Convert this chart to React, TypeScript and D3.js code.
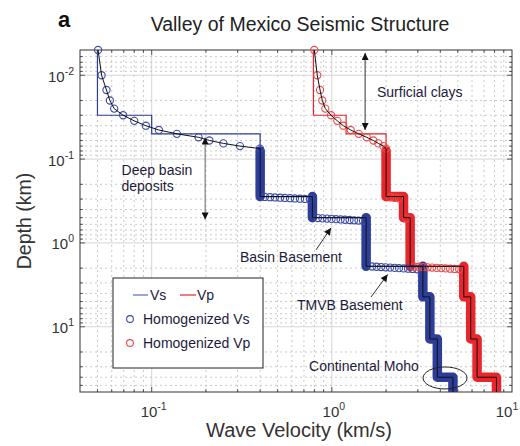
import React from "react";
import * as d3 from "d3";

// ---- Data -------------------------------------------------------------

// Finely sampled upper clay layers (depth in km, velocities in km/s)
const shallowDepth = [0.005, 0.01, 0.015, 0.02, 0.025, 0.03, 0.035, 0.04, 0.045, 0.05, 0.055, 0.06, 0.065, 0.07, 0.075];
const shallowVs = [0.0504, 0.0527, 0.0561, 0.0586, 0.0619, 0.0694, 0.08, 0.0928, 0.1096, 0.138, 0.182, 0.209, 0.25, 0.309, 0.399];
const shallowVp = [0.799, 0.83, 0.86, 0.885, 0.92, 0.99, 1.073, 1.158, 1.273, 1.41, 1.561, 1.7, 1.812, 1.932, 2.0];

// Layered model: top of each layer (km) and its velocities (km/s)
const layerTop = [0.005, 0.03, 0.05, 0.28, 0.5, 1.9, 4.4, 14, 40];
const layerVs = [0.05, 0.1, 0.4, 0.78, 1.55, 3.2, 3.5, 3.85, 4.7];
const layerVp = [0.79, 1.2, 2.0, 2.5, 2.72, 5.4, 5.9, 6.4, 8.2];
const modelBase = 60;

// Gradient profile ends here; the dense homogenized samples start just below
const gradientBase = 0.075;
const denseTop = 0.08;

// Interfaces where the homogenized samples spread out into separate markers
const vsBandBreaks = [0.28, 0.5, 1.9];
const vpBandBreaks = [1.9];

// Homogenized samples across the main interfaces
const vsStepDepth = [
  0.283, 0.285, 0.287, 0.289, 0.291, 0.293, 0.295, 0.297, 0.299, 0.301,
  0.505, 0.509, 0.513, 0.517, 0.521, 0.525, 0.529, 0.533, 0.537, 0.541, 0.545,
  1.91, 1.925, 1.94, 1.955, 1.97, 1.985, 2.0, 2.015, 2.03, 2.045, 2.06,
];
const vsStepVel = [
  0.425, 0.454, 0.483, 0.516, 0.549, 0.586, 0.624, 0.666, 0.709, 0.756,
  0.837, 0.887, 0.94, 0.996, 1.055, 1.118, 1.183, 1.254, 1.328, 1.407, 1.49,
  1.672, 1.771, 1.876, 1.986, 2.105, 2.23, 2.361, 2.502, 2.649, 2.806, 2.973,
];
const vpStepDepth = [
  0.285, 0.29, 0.295,
  0.51,
  1.91, 1.925, 1.94, 1.955, 1.97, 1.985, 2.0, 2.015, 2.03, 2.045, 2.06,
];
const vpStepVel = [
  2.105, 2.23, 2.361,
  2.6,
  2.86, 3.03, 3.209, 3.4, 3.601, 3.814, 4.041, 4.28, 4.534, 4.803, 5.087,
];

// Axis tick labels (exponents of ten)
const xTickExp = ["-1", "0", "1"];
const yTickExp = ["-2", "-1", "0", "1"];

// Annotations, placed in data coordinates [velocity, depth]
const noteText = [
  { lines: ["Surficial clays"], at: [1.78, 0.0182] },
  { lines: ["Deep basin", "deposits"], at: [0.068, 0.155] },
  { lines: ["Basin Basement"], at: [0.309, 1.69] },
  { lines: ["TMVB Basement"], at: [0.64, 6.31] },
  { lines: ["Continental Moho"], at: [0.747, 33.7] },
];
const noteArrows = [
  { from: [1.53, 0.00543], to: [1.53, 0.045], both: true, color: "#333" },
  { from: [0.198, 0.0553], to: [0.198, 0.5255], both: true, color: "#666" },
  { from: [0.817, 1.21], to: [0.989, 0.664], both: false, color: "#333" },
  { from: [1.65, 4.42], to: [2.04, 2.38], both: false, color: "#333" },
];
const mohoRing = { at: [4.25, 40.8], rx: 22, ry: 11 };

// ---- Layout & style ---------------------------------------------------

const W = 520;
const H = 446;
const plot = { left: 80, right: 512, top: 50, bottom: 392 };
const FONT = "'Liberation Sans', Arial, Helvetica, sans-serif";

const BLUE = "#2c3e9a";
const BLUE_MK = "#3b4ca8";
const RED = "#e8262b";
const RED_MK = "#ee4848";

const x = d3.scaleLog().domain([0.04, 10]).range([plot.left, plot.right]);
const y = d3.scaleLog().domain([0.005, modelBase]).range([plot.top, plot.bottom]);

type Pt = [number, number]; // [velocity, depth]

const line = d3
  .line<Pt>()
  .x((d) => x(d[0]))
  .y((d) => y(d[1]));

function layerBottom(i: number) {
  return i + 1 < layerTop.length ? layerTop[i + 1] : modelBase;
}

// Staircase of the layered model below a given depth
function stepPoints(vel: number[], from: number): Pt[] {
  const pts: Pt[] = [];
  layerTop.forEach((t, i) => {
    const bot = layerBottom(i);
    if (bot <= from) return;
    pts.push([vel[i], Math.max(t, from)], [vel[i], bot]);
  });
  return pts;
}

// Dense homogenized samples drawn as a continuous band, lifted at breaks
function bandPath(vel: number[], breaks: number[]) {
  let p = "";
  let started = false;
  layerTop.forEach((t, i) => {
    const bot = layerBottom(i);
    if (bot <= denseTop) return;
    const top = Math.max(t, denseTop);
    const cmd = !started || breaks.some((b) => Math.abs(b - top) < 1e-9) ? "M" : "L";
    p += `${cmd}${x(vel[i])},${y(top)}L${x(vel[i])},${y(bot)}`;
    started = true;
  });
  return p;
}

const isMajor = (v: number) => Math.abs(Math.log10(v) - Math.round(Math.log10(v))) < 1e-9;

function PowLabel(props: { x: number; y: number; exp: string; anchor: "start" | "middle" | "end" }) {
  return (
    <text x={props.x} y={props.y} textAnchor={props.anchor} fontSize={15} fill="#333" fontFamily={FONT}>
      10
      <tspan dy={-7} fontSize={10.5}>
        {props.exp}
      </tspan>
    </text>
  );
}

export default function App() {
  const xt = x.ticks();
  const yt = y.ticks();
  const [x0, x1] = x.domain();
  const [y0, y1] = y.domain();
  const xInner = xt.filter((t) => t > x0 * 1.0001 && t < x1 * 0.9999);
  const yInner = yt.filter((t) => t > y0 * 1.0001 && t < y1 * 0.9999);
  const xMajor = xt.filter(isMajor);
  const yMajor = yt.filter(isMajor);

  const vsTrue: Pt[] = [
    ...shallowDepth.map((d, i) => [shallowVs[i], d] as Pt),
    ...stepPoints(layerVs, gradientBase),
  ];
  const vpTrue: Pt[] = [
    ...shallowDepth.map((d, i) => [shallowVp[i], d] as Pt),
    ...stepPoints(layerVp, gradientBase),
  ];

  const vsCircles: Pt[] = [
    ...shallowDepth.map((d, i) => [shallowVs[i], d] as Pt),
    ...vsStepDepth.map((d, i) => [vsStepVel[i], d] as Pt),
  ];
  const vpCircles: Pt[] = [
    ...shallowDepth.map((d, i) => [shallowVp[i], d] as Pt),
    ...vpStepDepth.map((d, i) => [vpStepVel[i], d] as Pt),
  ];

  const majLen = 5;
  const minLen = 3;

  const leg = { x: plot.left + 33, y: plot.bottom - 114, w: 150, h: 90 };

  return (
    <svg
      width={W}
      height={H}
      viewBox={`0 0 ${W} ${H}`}
      style={{ position: "absolute", left: 0, top: 0, background: "#fff" }}
    >
      <defs>
        <clipPath id="plotClip">
          <rect x={plot.left} y={plot.top} width={plot.right - plot.left} height={plot.bottom - plot.top} />
        </clipPath>
        <marker
          id="head"
          viewBox="0 0 10 10"
          refX={10}
          refY={5}
          markerUnits="userSpaceOnUse"
          markerWidth={8}
          markerHeight={7}
          orient="auto-start-reverse"
        >
          <path d="M0,0L10,5L0,10z" fill="#111" />
        </marker>
      </defs>

      <rect x={0} y={0} width={W} height={H} fill="#fff" />

      {/* Grid */}
      <g>
        {xInner.map((t) => (
          <line
            key={"gx" + t}
            x1={x(t)}
            x2={x(t)}
            y1={plot.top}
            y2={plot.bottom}
            stroke={isMajor(t) ? "#d6d6d6" : "#bdbdbd"}
            strokeWidth={isMajor(t) ? 1 : 0.8}
            strokeDasharray={isMajor(t) ? undefined : "2,3"}
          />
        ))}
        {yInner.map((t) => (
          <line
            key={"gy" + t}
            y1={y(t)}
            y2={y(t)}
            x1={plot.left}
            x2={plot.right}
            stroke={isMajor(t) ? "#d6d6d6" : "#bdbdbd"}
            strokeWidth={isMajor(t) ? 1 : 0.8}
            strokeDasharray={isMajor(t) ? undefined : "2,3"}
          />
        ))}
      </g>

      {/* Axes box and ticks */}
      <rect
        x={plot.left}
        y={plot.top}
        width={plot.right - plot.left}
        height={plot.bottom - plot.top}
        fill="none"
        stroke="#333"
        strokeWidth={1}
      />
      <g stroke="#333" strokeWidth={0.8}>
        {xInner.map((t) => {
          const L = isMajor(t) ? majLen : minLen;
          return (
            <g key={"tx" + t}>
              <line x1={x(t)} x2={x(t)} y1={plot.bottom} y2={plot.bottom - L} />
              <line x1={x(t)} x2={x(t)} y1={plot.top} y2={plot.top + L} />
            </g>
          );
        })}
        {yInner.map((t) => {
          const L = isMajor(t) ? majLen : minLen;
          return (
            <g key={"ty" + t}>
              <line y1={y(t)} y2={y(t)} x1={plot.left} x2={plot.left + L} />
              <line y1={y(t)} y2={y(t)} x1={plot.right} x2={plot.right - L} />
            </g>
          );
        })}
      </g>

      {/* Profiles */}
      <g clipPath="url(#plotClip)" fill="none">
        <path d={line(stepPoints(layerVs, layerTop[0])) || ""} stroke={BLUE} strokeWidth={1.2} />
        <path d={line(stepPoints(layerVp, layerTop[0])) || ""} stroke={RED} strokeWidth={1.2} />
        <path
          d={bandPath(layerVs, vsBandBreaks)}
          stroke={BLUE}
          strokeWidth={9.5}
          strokeLinecap="round"
          strokeLinejoin="round"
        />
        <path
          d={bandPath(layerVp, vpBandBreaks)}
          stroke={RED}
          strokeWidth={9.5}
          strokeLinecap="round"
          strokeLinejoin="round"
        />
      </g>
      <g fill="none" strokeWidth={1.1}>
        {vsCircles.map((p, i) => (
          <circle key={"cs" + i} cx={x(p[0])} cy={y(p[1])} r={3.6} stroke={BLUE_MK} />
        ))}
        {vpCircles.map((p, i) => (
          <circle key={"cp" + i} cx={x(p[0])} cy={y(p[1])} r={3.6} stroke={RED_MK} />
        ))}
      </g>
      <g clipPath="url(#plotClip)" fill="none">
        <path d={line(vsTrue) || ""} stroke="#111" strokeWidth={1} />
        <path d={line(vpTrue) || ""} stroke="#111" strokeWidth={1} />
      </g>

      {/* Annotations */}
      <g fontFamily={FONT} fontSize={14} fill="#1c1c3a">
        {noteText.map((n, i) => (
          <text key={"n" + i} x={x(n.at[0])} y={y(n.at[1])}>
            {n.lines.map((l, j) => (
              <tspan key={j} x={x(n.at[0])} dy={j === 0 ? 0 : 16}>
                {l}
              </tspan>
            ))}
          </text>
        ))}
      </g>
      <g fill="none" strokeWidth={1}>
        {noteArrows.map((a, i) => (
          <line
            key={"a" + i}
            x1={x(a.from[0])}
            y1={y(a.from[1])}
            x2={x(a.to[0])}
            y2={y(a.to[1])}
            stroke={a.color}
            markerEnd="url(#head)"
            markerStart={a.both ? "url(#head)" : undefined}
          />
        ))}
        <ellipse
          cx={x(mohoRing.at[0])}
          cy={y(mohoRing.at[1])}
          rx={mohoRing.rx}
          ry={mohoRing.ry}
          stroke="#222"
        />
      </g>

      {/* Legend */}
      <g fontFamily={FONT} fontSize={14} fill="#1c1c3a">
        <rect x={leg.x} y={leg.y} width={leg.w} height={leg.h} fill="#fff" stroke="#222" strokeWidth={1} />
        <line x1={leg.x + 20} x2={leg.x + 35} y1={leg.y + 17} y2={leg.y + 17} stroke="#5a6abf" strokeWidth={1.2} />
        <text x={leg.x + 37} y={leg.y + 22}>Vs</text>
        <line x1={leg.x + 67} x2={leg.x + 83} y1={leg.y + 17} y2={leg.y + 17} stroke={RED} strokeWidth={1.2} />
        <text x={leg.x + 84} y={leg.y + 22}>Vp</text>
        <circle cx={leg.x + 17} cy={leg.y + 41} r={3.4} fill="none" stroke={BLUE_MK} strokeWidth={1.1} />
        <text x={leg.x + 30} y={leg.y + 46}>Homogenized Vs</text>
        <circle cx={leg.x + 17} cy={leg.y + 65} r={3.4} fill="none" stroke={RED_MK} strokeWidth={1.1} />
        <text x={leg.x + 30} y={leg.y + 70}>Homogenized Vp</text>
      </g>

      {/* Tick labels */}
      {xMajor.map((t, i) => (
        <PowLabel key={"lx" + t} x={Math.min(x(t) + 2, W - 13)} y={plot.bottom + 25} exp={xTickExp[i]} anchor="middle" />
      ))}
      {yMajor.map((t, i) => (
        <PowLabel key={"ly" + t} x={plot.left - 6} y={y(t) + 6.5} exp={yTickExp[i]} anchor="end" />
      ))}

      {/* Axis titles */}
      <text
        x={(plot.left + plot.right) / 2 + 3}
        y={437}
        textAnchor="middle"
        fontFamily={FONT}
        fontSize={20}
        fill="#333"
      >
        Wave Velocity (km/s)
      </text>
      <text
        transform={`translate(31,${(plot.top + plot.bottom) / 2}) rotate(-90)`}
        textAnchor="middle"
        fontFamily={FONT}
        fontSize={19.5}
        fill="#333"
      >
        Depth (km)
      </text>
      <text
        x={(plot.left + plot.right) / 2 + 4}
        y={31}
        textAnchor="middle"
        fontFamily={FONT}
        fontSize={19.5}
        fill="#222"
      >
        Valley of Mexico Seismic Structure
      </text>
      <text x={58} y={27} fontFamily={FONT} fontSize={22} fontWeight="bold" fill="#111">
        a
      </text>
    </svg>
  );
}
